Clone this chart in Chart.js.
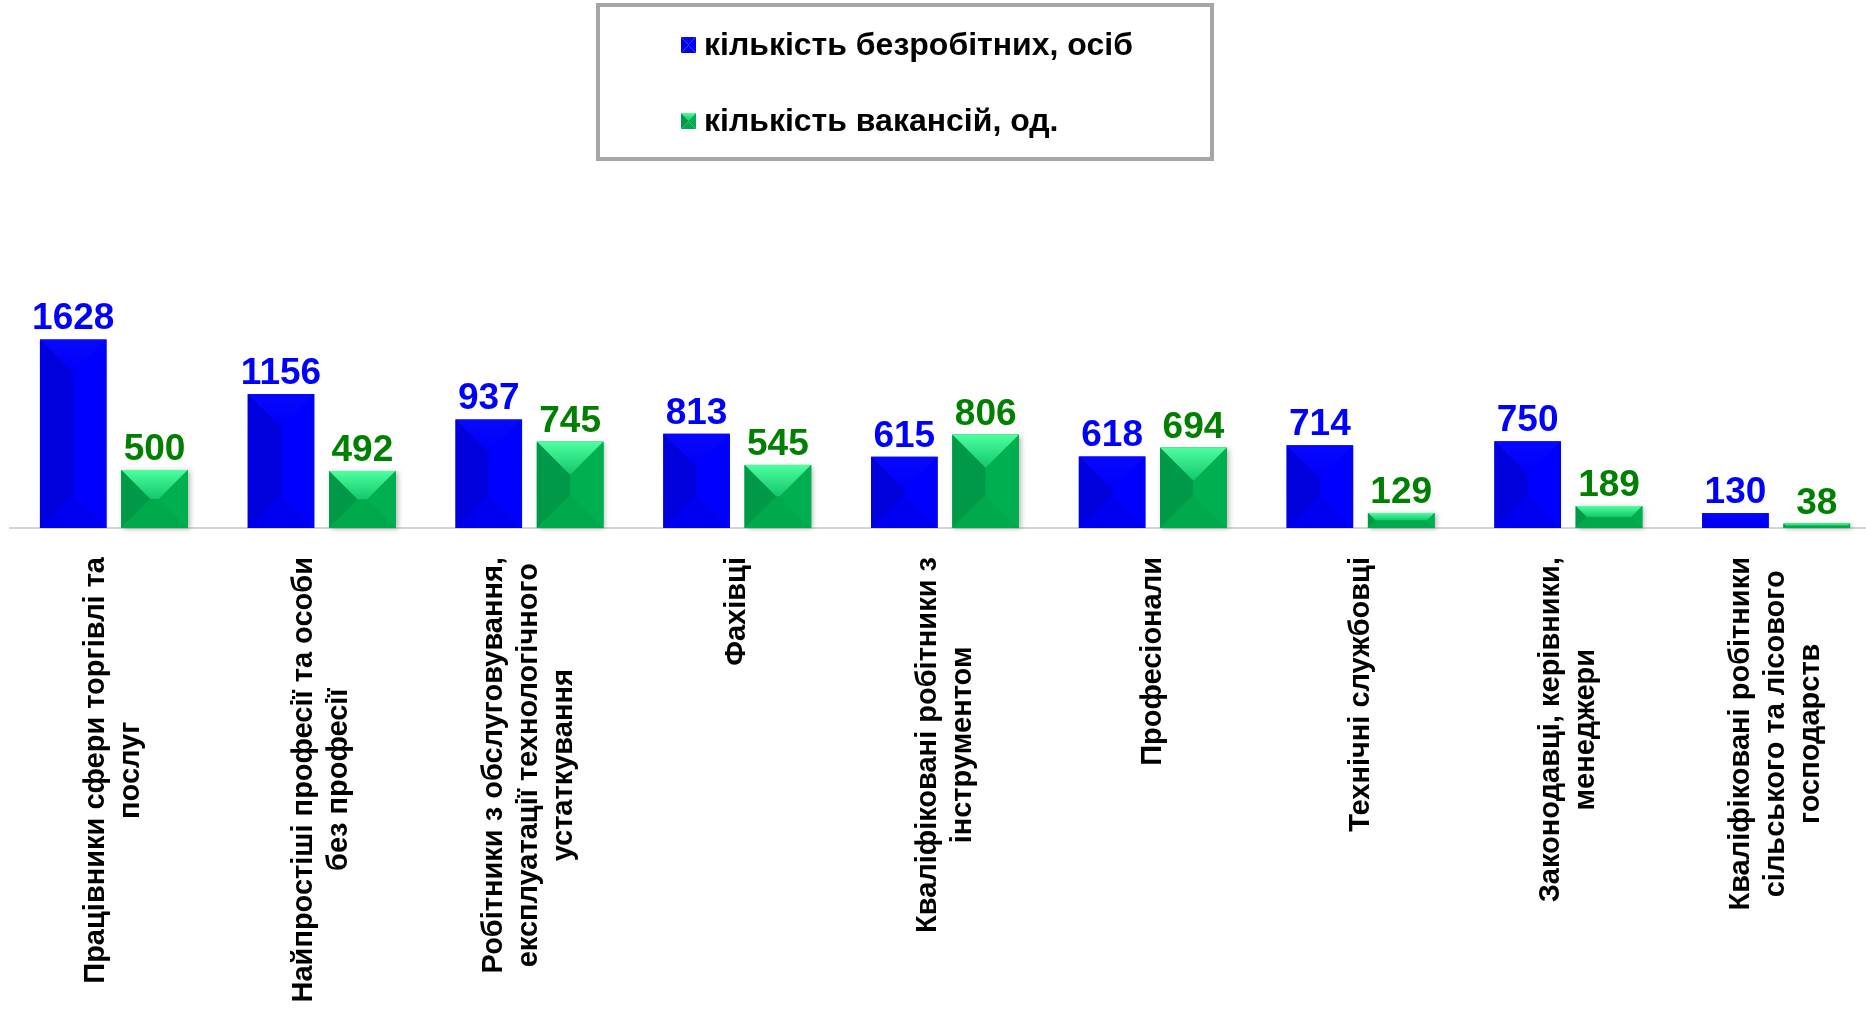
<!DOCTYPE html>
<html><head><meta charset="utf-8">
<script src="https://cdn.jsdelivr.net/npm/chart.js@4"></script>
<style>
html,body{margin:0;padding:0;background:#fff;overflow:hidden;}
#wrap{position:relative;width:1880px;height:1016px;}
</style></head><body>
<div id="wrap"><canvas id="c"></canvas></div>
<script>
// ---- data ----
const categories = [
  ["Працівники сфери торгівлі та","послуг"],
  ["Найпростіші професії та особи","без професії"],
  ["Робітники з обслуговування,","експлуатації технологічного","устаткування"],
  ["Фахівці"],
  ["Кваліфіковані робітники з","інструментом"],
  ["Професіонали"],
  ["Технічні службовці"],
  ["Законодавці, керівники,","менеджери"],
  ["Кваліфіковані робітники","сільського та лісового","господарств"]
];
const seriesNames = ["кількість безробітних, осіб","кількість вакансій, од."];
const unemployed = [1628,1156,937,813,615,618,714,750,130];
const vacancies  = [500,492,745,545,806,694,129,189,38];

// ---- styles ----
const FONT = '"Liberation Sans", Arial, sans-serif';
const CAT_FONT = 29, CAT_LINE = 35, LABEL_FONT = 37, LEG_FONT = 32;
const palettes = [
  {base:'#0000FF', top:['#0808FF','#0000F8'], left:'#0000DC', right:'#0000FF', bottom:'#0000F0', label:'#0000FF', shadow:false},
  {base:'#00B050', top:['#4CFFA0','#12C86A'], left:'#00994A', right:'#00B050', bottom:'#00A94C', label:'#008000', shadow:true}
];

function poly(ctx, pts, fill){
  ctx.beginPath(); ctx.moveTo(pts[0][0],pts[0][1]);
  for(let i=1;i<pts.length;i++) ctx.lineTo(pts[i][0],pts[i][1]);
  ctx.closePath(); ctx.fillStyle=fill; ctx.fill();
}
function bevel(ctx,L,T,R,B,pal){
  const w=R-L,h=B-T; if(h<=0.5) return;
  if(pal.shadow){
    ctx.save(); ctx.shadowColor='rgba(0,0,0,0.28)'; ctx.shadowBlur=5; ctx.shadowOffsetX=2; ctx.shadowOffsetY=1;
    ctx.fillStyle=pal.base; ctx.fillRect(L,T,w,h); ctx.restore();
  }
  const d=Math.min(w,h)/2;
  const g=ctx.createLinearGradient(0,T,0,T+Math.max(d,1));
  g.addColorStop(0,pal.top[0]); g.addColorStop(1,pal.top[1]);
  poly(ctx,[[L,T],[R,T],[R-d,T+d],[L+d,T+d]],g);
  poly(ctx,[[L,T],[L+d,T+d],[L+d,B-d],[L,B]],pal.left);
  poly(ctx,[[R,T],[R,B],[R-d,B-d],[R-d,T+d]],pal.right);
  poly(ctx,[[L,B],[L+d,B-d],[R-d,B-d],[R,B]],pal.bottom);
}

const decor = {
  id:'decor',
  afterDatasetsDraw(chart){
    const ctx=chart.ctx;
    chart.data.datasets.forEach((ds,di)=>{
      const meta=chart.getDatasetMeta(di);
      meta.data.forEach(el=>{
        const p=el.getProps(['x','y','base','width'],true);
        bevel(ctx,p.x-p.width/2,p.y,p.x+p.width/2,p.base,palettes[di]);
      });
    });
  },
  afterDraw(chart){
    const ctx=chart.ctx, xs=chart.scales.x, area=chart.chartArea;
    // value labels
    ctx.save();
    ctx.font=`bold ${LABEL_FONT}px ${FONT}`; ctx.textAlign='center'; ctx.textBaseline='alphabetic';
    chart.data.datasets.forEach((ds,di)=>{
      const meta=chart.getDatasetMeta(di);
      meta.data.forEach((el,i)=>{
        const p=el.getProps(['x','y'],true);
        ctx.fillStyle=palettes[di].label;
        ctx.fillText(String(ds.data[i]),p.x,p.y-10);
      });
    });
    ctx.restore();
    // category labels (rotated, lines centred)
    ctx.save();
    ctx.font=`bold ${CAT_FONT}px ${FONT}`; ctx.fillStyle='#000';
    const top=area.bottom+29;
    categories.forEach((lines,i)=>{
      const cx=xs.getPixelForValue(i);
      const W=Math.max(...lines.map(l=>ctx.measureText(l).width));
      const n=lines.length;
      lines.forEach((ln,j)=>{
        ctx.save();
        ctx.translate(cx+(j-(n-1)/2)*CAT_LINE, top+W/2);
        ctx.rotate(-Math.PI/2);
        ctx.textAlign='center'; ctx.textBaseline='middle';
        ctx.fillText(ln,0,0);
        ctx.restore();
      });
    });
    ctx.restore();
    // legend
    ctx.save();
    const bx=598, by=5, bw=614, bh=154;
    ctx.strokeStyle='#A6A6A6'; ctx.lineWidth=4; ctx.strokeRect(bx,by,bw,bh);
    ctx.font=`bold ${LEG_FONT}px ${FONT}`; ctx.textBaseline='middle'; ctx.textAlign='left'; ctx.fillStyle='#000';
    const rows=[45,121];
    chart.data.datasets.forEach((ds,di)=>{
      const y=rows[di];
      bevel(ctx,681,y-8,696,y+8,Object.assign({},palettes[di],{shadow:false}));
      ctx.fillStyle='#000';
      ctx.fillText(ds.label,704,y+1);
    });
    ctx.restore();
  }
};

new Chart(document.getElementById('c'),{
  type:'bar',
  data:{
    labels:categories,
    datasets:[
      {label:seriesNames[0],data:unemployed,backgroundColor:palettes[0].base,borderWidth:0},
      {label:seriesNames[1],data:vacancies,backgroundColor:palettes[1].base,borderWidth:0}
    ]
  },
  options:{
    responsive:true, maintainAspectRatio:false, animation:false,
    devicePixelRatio:1,
    layout:{padding:{top:175,bottom:480,left:10,right:0}},
    datasets:{bar:{barPercentage:0.818,categoryPercentage:0.783}},
    plugins:{legend:{display:false},tooltip:{enabled:false}},
    scales:{
      x:{display:true,grid:{display:false},ticks:{display:false},border:{display:true,color:'#D4D4D4',width:2}},
      y:{display:false,min:0,max:3048}
    }
  },
  plugins:[decor]
});
</script>
</body></html>
